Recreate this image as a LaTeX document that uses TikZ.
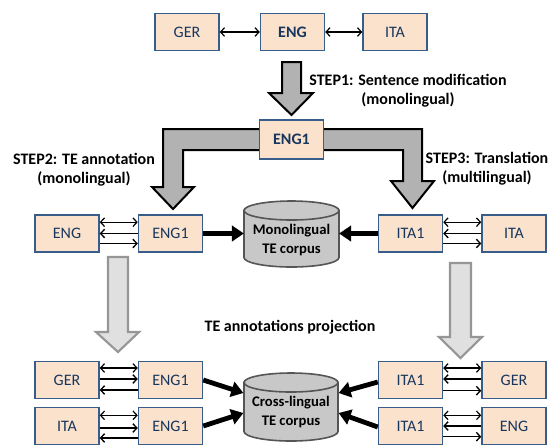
\documentclass[tikz,border=0pt]{standalone}
\usepackage{fontspec}
\setmainfont{Carlito}
\usetikzlibrary{arrows.meta}
\definecolor{boxfill}{RGB}{251,226,204}
\definecolor{boxdraw}{RGB}{56,93,138}
\definecolor{boxtext}{RGB}{23,55,94}
\definecolor{bigfill}{RGB}{178,178,178}
\definecolor{lightfill}{RGB}{224,224,224}
\definecolor{lightdraw}{RGB}{150,150,150}
\definecolor{cylfill}{RGB}{200,200,200}
\definecolor{cyldraw}{RGB}{85,85,85}
\begin{document}
\begin{tikzpicture}[x=0.75pt,y=-0.75pt,
  langbox/.style={draw=boxdraw,fill=boxfill,line width=1.1pt,text=boxtext,
    font=\fontsize{12}{14}\selectfont,minimum width=48pt,minimum height=27.5pt,inner sep=0pt},
  twoway/.style={line width=0.9pt,{Straight Barb[length=3pt,width=6.5pt]}-{Straight Barb[length=3pt,width=6.5pt]}},
  oneway/.style={line width=1pt,-{Straight Barb[length=3pt,width=6.5pt]}},
  fat/.style={line width=3.6pt,-{Triangle[length=9pt,width=11.5pt]}},
  bigarrow/.style={fill=bigfill,draw=black,line width=1.5pt,line join=miter},
  lightarrow/.style={fill=lightfill,draw=lightdraw,line width=1.6pt,line join=miter},
  cylbody/.style={fill=cylfill,draw=cyldraw,line width=1.2pt},
  cyltext/.style={font=\bfseries\fontsize{11}{14.25}\selectfont,align=center,inner sep=0pt,minimum width=71pt},
  label/.style={font=\bfseries\fontsize{12}{14.5}\selectfont,align=center,inner sep=0pt}
]
\useasboundingbox (0,0) rectangle (552,444);

% big dark-gray arrows (drawn first, boxes on top)
\path[bigarrow] (282,62) -- (301,62) -- (301,93) -- (313,93) -- (291.5,115) -- (269,93) -- (282,93) -- cycle;
\path[bigarrow] (262,129) -- (163,129) -- (163,187) -- (152,187) -- (173,209) -- (194,187) -- (183,187) -- (183,150) -- (262,150) -- cycle;
\path[bigarrow] (321,129) -- (422,129) -- (422,181) -- (434,181) -- (412.5,208) -- (391,181) -- (403,181) -- (403,150) -- (321,150) -- cycle;

% light-gray projection arrows
\path[lightarrow] (108,257) -- (128,257) -- (128,332) -- (139,332) -- (118,352) -- (96,332) -- (108,332) -- cycle;
\path[lightarrow] (450,263) -- (471,263) -- (471,337) -- (482,337) -- (460.5,358) -- (439,337) -- (450,337) -- cycle;

% top row
\node[langbox] (gerT) at (187,32) {GER};
\node[langbox,font=\bfseries\fontsize{12}{14}\selectfont] (engT) at (292.5,32) {ENG};
\node[langbox] (itaT) at (395,32) {ITA};
\draw[twoway] (gerT.east) -- (engT.west);
\draw[twoway] (engT.east) -- (itaT.west);

% ENG1 middle
\node[langbox,minimum height=29pt,font=\bfseries\fontsize{12}{14}\selectfont] (engM) at (291.5,139.5) {ENG1};

% labels
\node[label] (s1) at (408,91) {STEP1: Sentence modification\\(monolingual)};
\node[label] (s2) at (84,170) {STEP2: TE annotation\\(monolingual)};
\node[label] (s3) at (487,169) {STEP3: Translation\\(multilingual)};
\node[label] (proj) at (290,327) {TE annotations projection};

% cylinders
\path[cylbody] (244,210.5) -- (244,257.5) .. controls (244,262.75) and (265.3,267) .. (291.5,267)
  .. controls (317.7,267) and (339,262.75) .. (339,257.5) -- (339,210.5) -- cycle;
\path[cylbody] (291.5,210.5) ellipse [x radius=47.5, y radius=9.5];
\node[cyltext] (mono) at (291.5,239.5) {Monolingual\\TE corpus};

\path[cylbody] (244,382.5) -- (244,431.5) .. controls (244,436.75) and (265,441) .. (291,441)
  .. controls (317,441) and (338,436.75) .. (338,431.5) -- (338,382.5) -- cycle;
\path[cylbody] (291,382.5) ellipse [x radius=47, y radius=9.5];
\node[cyltext] (cross) at (291,412) {Cross-lingual\\TE corpus};

% middle row
\node[langbox] (engL) at (67,233.5) {ENG};
\node[langbox] (engoneL) at (170.5,233.5) {ENG1};
\node[langbox] (itaoneR) at (410.5,233.5) {ITA1};
\node[langbox] (itaR) at (514,233.5) {ITA};
\draw[twoway] ([yshift=8.5pt]engL.east) -- ([yshift=8.5pt]engoneL.west);
\draw[oneway] (engoneL.west) -- (engL.east);
\draw[oneway] ([yshift=-7.5pt]engL.east) -- ([yshift=-7.5pt]engoneL.west);
\draw[twoway] ([yshift=8.5pt]itaoneR.east) -- ([yshift=8.5pt]itaR.west);
\draw[oneway] (itaR.west) -- (itaoneR.east);
\draw[oneway] ([yshift=-7.5pt]itaoneR.east) -- ([yshift=-7.5pt]itaR.west);
\draw[fat] (engoneL.east) -- (engoneL.east -| mono.west);
\draw[fat] (itaoneR.west) -- (itaoneR.west -| mono.east);

% bottom rows
\node[langbox] (gerB) at (67,380) {GER};
\node[langbox] (engoneA) at (170.5,380) {ENG1};
\node[langbox] (itaB) at (67,426) {ITA};
\node[langbox] (engoneB) at (170.5,426) {ENG1};
\node[langbox] (itaoneA) at (410.5,380) {ITA1};
\node[langbox] (gerR) at (514,380) {GER};
\node[langbox] (itaoneB) at (410.5,426) {ITA1};
\node[langbox] (engR) at (514,426) {ENG};

\draw[twoway] ([yshift=9pt]gerB.east) -- ([yshift=9pt]engoneA.west);
\draw[oneway] ([yshift=0.75pt]gerB.east) -- ([yshift=0.75pt]engoneA.west);
\draw[oneway] ([yshift=-7.5pt]engoneA.west) -- ([yshift=-7.5pt]gerB.east);
\draw[twoway] ([yshift=8pt]itaB.east) -- ([yshift=8pt]engoneB.west);
\draw[oneway] ([yshift=-1.5pt]itaB.east) -- ([yshift=-1.5pt]engoneB.west);
\draw[oneway] ([yshift=-9pt]engoneB.west) -- ([yshift=-9pt]itaB.east);

\draw[twoway] ([yshift=9pt]itaoneA.east) -- ([yshift=9pt]gerR.west);
\draw[oneway] ([yshift=0.75pt]gerR.west) -- ([yshift=0.75pt]itaoneA.east);
\draw[oneway] ([yshift=-8pt]itaoneA.east) -- ([yshift=-8pt]gerR.west);
\draw[twoway] ([yshift=8pt]itaoneB.east) -- ([yshift=8pt]engR.west);
\draw[oneway] ([yshift=0pt]engR.west) -- ([yshift=0pt]itaoneB.east);
\draw[oneway] ([yshift=-8pt]itaoneB.east) -- ([yshift=-8pt]engR.west);

\draw[fat] (engoneA.east) -- ([yshift=14.25pt]cross.west);
\draw[fat] (engoneB.east) -- ([yshift=-0.75pt]cross.west);
\draw[fat] ([yshift=-1.5pt]itaoneA.west) -- ([yshift=14.25pt]cross.east);
\draw[fat] ([yshift=-0.75pt]itaoneB.west) -- ([yshift=-0.75pt]cross.east);
\end{tikzpicture}
\end{document}
